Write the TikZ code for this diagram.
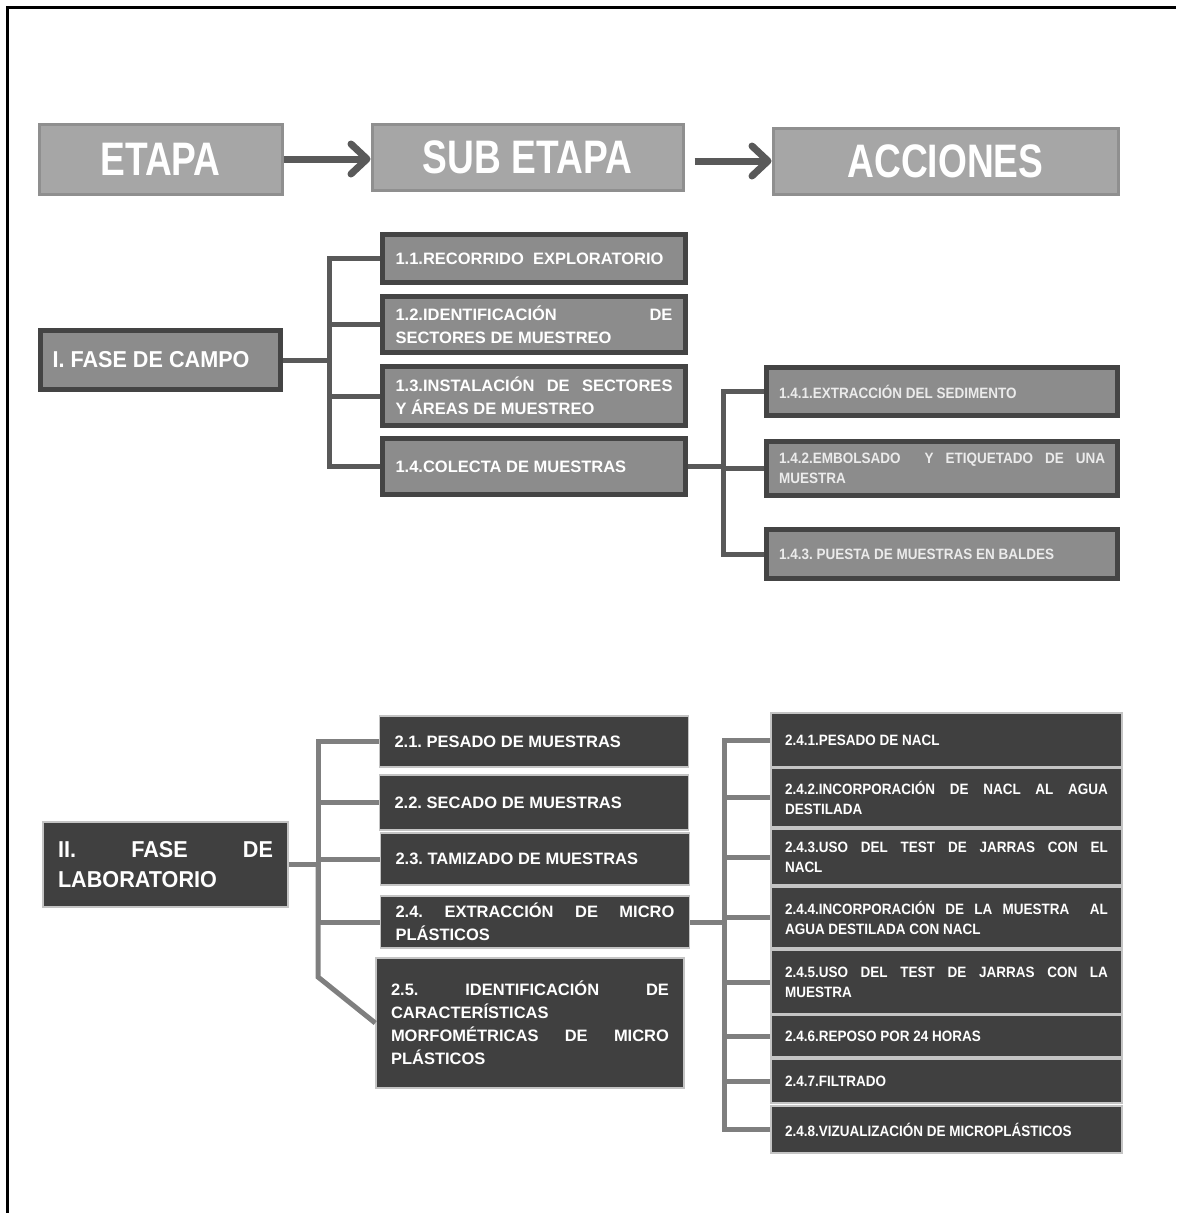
\documentclass[tikz,border=0pt]{standalone}
\usepackage{fontspec}
\setmainfont{Liberation Sans}
\newfontfamily\hdfont[FakeStretch=0.79]{Liberation Sans}
\newfontfamily\phfont[FakeStretch=0.94]{Liberation Sans}
\newfontfamily\actfont[FakeStretch=0.9]{Liberation Sans}
\usetikzlibrary{arrows.meta}
\definecolor{hdfill}{HTML}{A6A6A6}
\definecolor{hdline}{HTML}{8F8F8F}
\definecolor{campfill}{HTML}{8C8C8C}
\definecolor{campline}{HTML}{444444}
\definecolor{labfill}{HTML}{404040}
\definecolor{labline}{HTML}{C4C4C4}
\definecolor{linkdark}{HTML}{595959}
\definecolor{linklight}{HTML}{7F7F7F}
\hyphenpenalty=10000
\exhyphenpenalty=10000
\tolerance=10000
\frenchspacing

\begin{document}
\begin{tikzpicture}[
  x=1pt,y=-1pt,
  head/.style={draw=hdline,fill=hdfill,line width=3pt,text=white,inner sep=0pt,
    font=\hdfont\bfseries\fontsize{47}{50}\selectfont},
  hdarrow/.style={-{Straight Barb[length=16pt,width=30pt,round]},line width=7pt,draw=linkdark},
  phase/.style={align=justify,inner ysep=0pt,text=white,
    font=\phfont\bfseries\fontsize{23}{30}\selectfont},
  sub/.style={align=justify,inner ysep=0pt,text=white,text width=277pt,inner xsep=13pt,
    font=\bfseries\fontsize{16.5}{23}\selectfont},
  act/.style={align=justify,inner ysep=0pt,text width=326pt,inner xsep=12.5pt,
    font=\actfont\bfseries\fontsize{15}{20}\selectfont},
  campo/.style={draw=campline,fill=campfill,line width=5pt},
  lab/.style={draw=labline,fill=labfill,line width=1.5pt},
  subB/.style={sub,lab,text width=279pt,inner xsep=15pt},
  actB/.style={act,lab,text=white,text width=323pt,inner xsep=14pt},
  linkA/.style={draw=linkdark,line width=5pt},
  linkB/.style={draw=linklight,line width=5pt}
]
  \useasboundingbox (0,0) rectangle (1176,1213);
  \draw[line width=3pt] (7,1213) -- (7,7) -- (1176,7);

  \node[head,minimum width=243pt,minimum height=70pt] (etapa) at (160.5,159) {ETAPA};
  \node[head,minimum width=311pt,minimum height=66pt] (subetapa) at (527.5,157) {SUB ETAPA};
  \node[head,minimum width=345pt,minimum height=66pt] (acciones) at (945.5,161) {ACCIONES};
  \draw[hdarrow] (etapa.east) -- (etapa.east -| subetapa.west);
  \draw[hdarrow,shorten <=10pt] (subetapa.east |- acciones.west) -- (acciones.west);

  \node[phase,campo,text width=216pt,inner xsep=12pt,minimum height=59pt] (campo) at (160.5,360) {I. FASE DE CAMPO};
  \node[sub,campo,minimum height=48pt] (s11) at (534,258.5) {1.1.RECORRIDO\ \ EXPLORATORIO};
  \node[sub,campo,minimum height=56pt] (s12) at (534,324.5) {1.2.IDENTIFICACIÓN DE\linebreak SECTORES DE MUESTREO};
  \node[sub,campo,minimum height=59pt] (s13) at (534,396) {1.3.INSTALACIÓN DE SECTORES\linebreak Y ÁREAS DE MUESTREO};
  \node[sub,campo,minimum height=56pt] (s14) at (534,466.5) {1.4.COLECTA DE MUESTRAS};
  \node[act,campo,text=black!8,minimum height=48pt] (a141) at (942,391.5) {1.4.1.EXTRACCIÓN DEL SEDIMENTO};
  \node[act,campo,text=black!8,minimum height=54pt] (a142) at (942,468.5) {1.4.2.EMBOLSADO\ \ Y ETIQUETADO DE UNA\linebreak MUESTRA};
  \node[act,campo,text=black!8,minimum height=49pt] (a143) at (942,554) {1.4.3. PUESTA DE MUESTRAS EN BALDES};

  \coordinate (jA) at (329,360);
  \coordinate (jA4) at (723,466.5);
  \draw[linkA] (campo) -- (jA);
  \foreach \s in {s11,s12,s13,s14}
    \draw[linkA] (jA) |- (\s);
  \draw[linkA] (s14) -- (jA4);
  \foreach \a in {a141,a142,a143}
    \draw[linkA] (jA4) |- (\a);

  \node[phase,lab,text width=215pt,inner xsep=15pt,minimum height=85pt] (lab) at (165.5,864.5) {II. FASE DE\linebreak LABORATORIO};
  \node[subB,minimum height=51pt] (s21) at (534,741.5) {2.1. PESADO DE MUESTRAS};
  \node[subB,minimum height=55pt] (s22) at (534,802.5) {2.2. SECADO DE MUESTRAS};
  \node[subB,minimum height=52pt] (s23) at (535,859) {2.3. TAMIZADO DE MUESTRAS};
  \node[subB,minimum height=52pt] (s24) at (535,922) {2.4. EXTRACCIÓN DE MICRO\linebreak PLÁSTICOS};
  \node[subB,text width=278pt,minimum height=130pt] (s25) at (530,1023) {2.5. IDENTIFICACIÓN DE\linebreak CARACTERÍSTICAS\newline MORFOMÉTRICAS DE MICRO\linebreak PLÁSTICOS};
  \node[actB,minimum height=54pt] (a241) at (946.5,740) {2.4.1.PESADO DE NACL};
  \node[actB,minimum height=59pt] (a242) at (946.5,797.5) {2.4.2.INCORPORACIÓN DE NACL AL AGUA\linebreak DESTILADA};
  \node[actB,minimum height=56pt] (a243) at (946.5,857) {2.4.3.USO DEL TEST DE JARRAS CON EL\linebreak NACL};
  \node[actB,minimum height=61pt] (a244) at (946.5,917.5) {2.4.4.INCORPORACIÓN DE LA MUESTRA\ \ AL\linebreak AGUA DESTILADA CON NACL};
  \node[actB,minimum height=64pt] (a245) at (946.5,982) {2.4.5.USO DEL TEST DE JARRAS CON LA\linebreak MUESTRA};
  \node[actB,minimum height=42pt] (a246) at (946.5,1036) {2.4.6.REPOSO POR 24 HORAS};
  \node[actB,minimum height=44pt] (a247) at (946.5,1081) {2.4.7.FILTRADO};
  \node[actB,minimum height=47pt] (a248) at (946.5,1129.5) {2.4.8.VIZUALIZACIÓN DE MICROPLÁSTICOS};

  \coordinate (jB) at (318,864.5);
  \coordinate (kB) at (318,977);
  \coordinate (jB4) at (724,922);
  \draw[linkB] (lab) -- (jB);
  \foreach \s in {s21,s22,s23,s24}
    \draw[linkB] (jB) |- (\s);
  \draw[linkB] (jB) -- (kB) -- (s25.west);
  \draw[linkB] (s24) -- (jB4);
  \foreach \a in {a241,a242,a243,a244,a245,a246,a247,a248}
    \draw[linkB] (jB4) |- (\a);
\end{tikzpicture}
\end{document}
